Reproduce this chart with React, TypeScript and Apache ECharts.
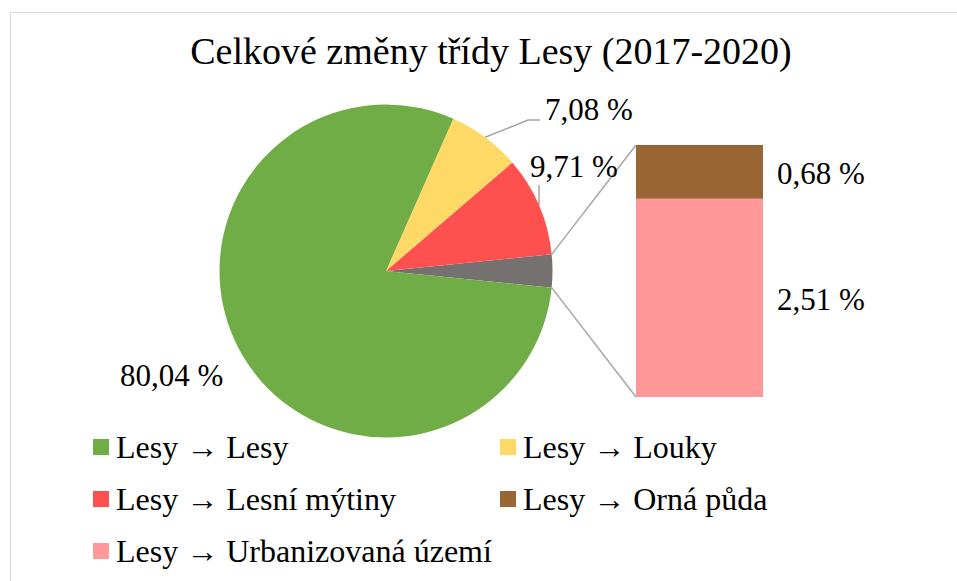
import React, { useEffect, useRef } from "react";
import * as echarts from "echarts";

const TITLE = "Celkové změny třídy Lesy (2017-2020)";
const pieNames = ["Ostatní", "Lesy → Lesní mýtiny", "Lesy → Louky", "Lesy → Lesy"];
const pieValues = [3.19, 9.71, 7.08, 80.04];
const pieColors = ["#767171", "#ff5050", "#ffd966", "#70ad47"];
const barNames = ["Lesy → Urbanizovaná území", "Lesy → Orná půda"];
const barValues = [2.51, 0.68];
const barColors = ["#ff9999", "#996633"];
const legendLeft = ["Lesy → Lesy", "Lesy → Lesní mýtiny", "Lesy → Urbanizovaná území"];
const legendRight = ["Lesy → Louky", "Lesy → Orná půda"];

const FONT = "Liberation Serif";
const fmt = (v: number) => v.toFixed(2).replace(".", ",") + " %";

export default function App() {
  const ref = useRef<HTMLDivElement>(null);
  useEffect(() => {
    if (!ref.current) return;
    const chart = echarts.init(ref.current, null, { renderer: "svg" });
    const cx = 386, cy = 271, R = 166.5;
    const total = pieValues.reduce((a, b) => a + b, 0);
    const half = (pieValues[0] / total) * 180;
    const hr = (half * Math.PI) / 180;
    const barLeft = 636, barTop = 145, barW = 127, barH = 252;
    const barSum = barValues.reduce((a, b) => a + b, 0);

    const midPoint = (idx: number) => {
      let acc = -half;
      for (let i = 0; i < idx; i++) acc += (pieValues[i] / total) * 360;
      const mid = acc + (pieValues[idx] / total) * 180;
      const r = (mid * Math.PI) / 180;
      return [cx + R * Math.cos(r), cy - R * Math.sin(r)];
    };

    const legendText = { fontFamily: FONT, fontSize: 32, color: "#000", lineHeight: 30, padding: [0, 0, 0, 2] };

    const option: any = {
      animation: false,
      backgroundColor: "#ffffff",
      graphic: [
        {
          type: "rect",
          shape: { x: 10.5, y: 12.5, width: 1200, height: 1000 },
          style: { fill: "none", stroke: "#d9d9d9", lineWidth: 1 },
          silent: true,
        },
        {
          type: "text",
          x: 491,
          y: 51,
          style: {
            text: TITLE,
            fontFamily: FONT,
            fontSize: 38,
            fill: "#000",
            align: "center",
            verticalAlign: "middle",
          },
        },
        {
          type: "line",
          shape: { x1: cx + R * Math.cos(hr), y1: cy - R * Math.sin(hr), x2: barLeft, y2: barTop },
          style: { stroke: "#a6a6a6", lineWidth: 1.5 },
        },
        {
          type: "line",
          shape: { x1: cx + R * Math.cos(hr), y1: cy + R * Math.sin(hr), x2: barLeft, y2: barTop + barH },
          style: { stroke: "#a6a6a6", lineWidth: 1.5 },
        },
      ],
      legend: [
        {
          left: 93,
          top: 431,
          orient: "vertical",
          data: legendLeft,
          icon: "rect",
          itemWidth: 16,
          itemHeight: 16,
          itemGap: 20,
          padding: 0,
          selectedMode: false,
          textStyle: legendText,
        },
        {
          left: 500,
          top: 431,
          orient: "vertical",
          data: legendRight,
          icon: "rect",
          itemWidth: 16,
          itemHeight: 16,
          itemGap: 20,
          padding: 0,
          selectedMode: false,
          textStyle: legendText,
        },
      ],
      grid: { left: barLeft, top: barTop, width: barW, height: barH, containLabel: false },
      xAxis: { type: "category", data: ["x"], show: false },
      yAxis: { type: "value", min: 0, max: barSum, show: false },
      series: [
        {
          type: "pie",
          center: [cx, cy],
          radius: [0, R],
          startAngle: -half,
          clockwise: false,
          silent: true,
          data: pieNames.map((n, i) => ({
            name: n,
            value: pieValues[i],
            itemStyle: { color: pieColors[i] },
            label: { show: i !== 0 },
            labelLine: { show: i === 1 || i === 2 },
          })),
          label: {
            formatter: (p: any) => fmt(p.value),
            fontFamily: FONT,
            fontSize: 31,
            color: "#000",
          },
          labelLine: { lineStyle: { color: "#a6a6a6", width: 1.5 }, length: 10, length2: 10 },
          labelLayout: (p: any) => {
            const i = p.dataIndex;
            if (i === 2) {
              const m = midPoint(2);
              return {
                x: 545, y: 109, align: "left", verticalAlign: "middle",
                labelLinePoints: [m, [528, 120], [540, 120]],
              };
            }
            if (i === 1) {
              const m = midPoint(1);
              return {
                x: 530, y: 166, align: "left", verticalAlign: "middle",
                labelLinePoints: [m, [m[0], 195], [m[0], 185]],
              };
            }
            if (i === 3) {
              return { x: 120, y: 375, align: "left", verticalAlign: "middle" };
            }
            return {};
          },
        },
        ...barNames.map((n, i) => ({
          type: "bar",
          name: n,
          stack: "other",
          barWidth: "100%",
          silent: true,
          itemStyle: { color: barColors[i] },
          data: [barValues[i]],
          label: {
            show: true,
            position: "right",
            distance: 14,
            offset: [0, 2],
            formatter: (p: any) => fmt(p.value),
            fontFamily: FONT,
            fontSize: 31,
            color: "#000",
          },
        })),
      ],
    };
    chart.setOption(option);
    return () => chart.dispose();
  }, []);
  return (
    <div
      ref={ref}
      style={{ position: "fixed", left: 0, top: 0, width: 957, height: 581 }}
    />
  );
}
